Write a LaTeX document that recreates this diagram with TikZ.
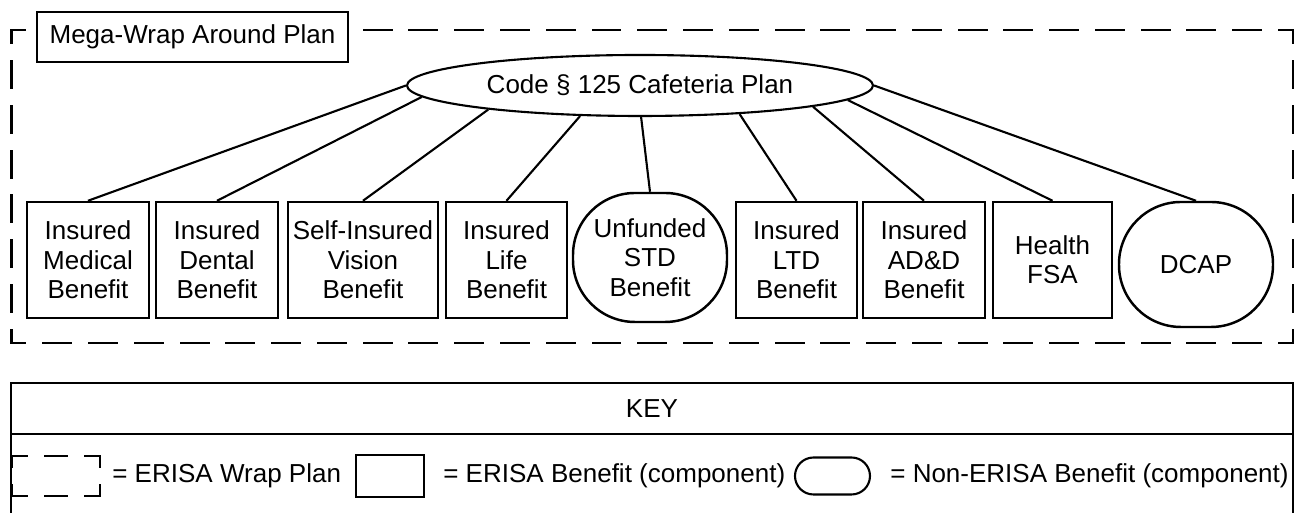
\documentclass[tikz,border=0pt]{standalone}
\usepackage{fontspec}
\setmainfont{Liberation Sans}
\usetikzlibrary{shapes.geometric}

\tikzset{
  benefit/.style={draw, line width=1.4pt, align=center, inner sep=0pt, minimum height=2.32cm},
  nonerisa/.style={draw, line width=1.4pt, align=center, inner sep=0pt, rounded corners=1.24cm},
  link/.style={line width=1.2pt},
  wraph/.style={line width=1.4pt, line cap=rect, dash pattern=on 0.55cm off 0.36536cm, dash phase=0.275cm},
  wrapv/.style={line width=1.4pt, line cap=rect, dash pattern=on 0.53cm off 0.3643cm, dash phase=0.265cm},
  keyline/.style={line width=1.2pt},
}

\begin{document}
\begin{tikzpicture}[font=\fontsize{14.8pt}{16.7pt}\selectfont]

\useasboundingbox (0, 0) rectangle (25.88, 10.26);

\coordinate (wrapNW) at (0.23, 9.66);
\coordinate (wrapNE) at (25.86, 9.66);
\coordinate (wrapSW) at (0.23, 3.40);
\coordinate (wrapSE) at (25.86, 3.40);
\draw[wraph] (wrapNW) -- (wrapNE);
\draw[wraph] (wrapSW) -- (wrapSE);
\draw[wrapv] (wrapNW) -- (wrapSW);
\draw[wrapv] (wrapNE) -- (wrapSE);

\node[draw, fill=white, line width=1.4pt, minimum width=6.22cm, minimum height=1cm, inner sep=0pt] (megawrap) at (3.85, 9.52) {Mega-Wrap Around Plan};

\node[ellipse, draw, line width=1.2pt, minimum width=9.32cm, minimum height=1.22cm, inner sep=0pt] (cafeteria) at (12.8, 8.55) {Code § 125 Cafeteria Plan};

\node[benefit, minimum width=2.44cm] (medical) at (1.76, 5.06) {Insured\\Medical\\Benefit};
\node[benefit, minimum width=2.44cm] (dental) at (4.34, 5.06) {Insured\\Dental\\Benefit};
\node[benefit, minimum width=3cm] (vision) at (7.26, 5.06) {Self-Insured\\Vision\\Benefit};
\node[benefit, minimum width=2.42cm] (life) at (10.13, 5.06) {Insured\\Life\\Benefit};
\node[nonerisa, minimum width=3.08cm, minimum height=2.58cm] (std) at (13, 5.11) {Unfunded\\STD\\Benefit};
\node[benefit, minimum width=2.42cm] (ltd) at (15.93, 5.06) {Insured\\LTD\\Benefit};
\node[benefit, minimum width=2.44cm] (add) at (18.48, 5.06) {Insured\\AD\&D\\Benefit};
\node[benefit, minimum width=2.38cm] (fsa) at (21.05, 5.06) {Health\\FSA};
\node[nonerisa, minimum width=3.08cm, minimum height=2.5cm] (dcap) at (23.92, 4.97) {DCAP};

\draw[link] (cafeteria.180) -- (medical.north);
\draw[link] (cafeteria.183) -- (dental.north);
\draw[link] (cafeteria.189) -- (vision.north);
\draw[link] (cafeteria.207) -- (life.north);
\draw[link] (cafeteria.272) -- (std.north);
\draw[link] (cafeteria.344) -- (ltd.north);
\draw[link] (cafeteria.353) -- (add.north);
\draw[link] (cafeteria.356) -- (fsa.north);
\draw[link] (cafeteria.0) -- (dcap.north);

\coordinate (keySW) at (0.22, 0);
\coordinate (keyNW) at (0.22, 2.6);
\coordinate (keyNE) at (25.86, 2.6);
\coordinate (keySE) at (25.86, 0);
\coordinate (keyW) at (0.22, 1.58);
\coordinate (keyE) at (25.86, 1.58);
\draw[keyline] (keySW) -- (keyNW) -- (keyNE) -- (keySE);
\draw[keyline] (keyW) -- (keyE);
\node (keytitle) at (13.04, 2.09) {KEY};

\draw[line width=1.2pt, line cap=rect, dash pattern=on 0.52cm off 0.36cm on 0.44cm off 0.36cm on 0.52cm off 0.36cm, dash phase=0.22cm] (0.24, 1.14) -- (2, 1.14) -- (2, 0.34) -- (0.24, 0.34) -- cycle;
\node[anchor=west, inner sep=0pt] (wraplabel) at (2.24, 0.74) {= ERISA Wrap Plan};
\node[draw, line width=1.2pt, minimum width=1.36cm, minimum height=0.84cm, inner sep=0pt] (erisakey) at (7.8, 0.74) {};
\node[anchor=west, inner sep=0pt] (erisalabel) at (8.86, 0.74) {= ERISA Benefit (component)};
\node[draw, line width=1.2pt, rounded corners=0.37cm, minimum width=1.5cm, minimum height=0.74cm, inner sep=0pt] (nonerisakey) at (16.65, 0.74) {};
\node[anchor=west, inner sep=0pt] (nonerisalabel) at (17.8, 0.74) {= Non-ERISA Benefit (component)};

\end{tikzpicture}
\end{document}
